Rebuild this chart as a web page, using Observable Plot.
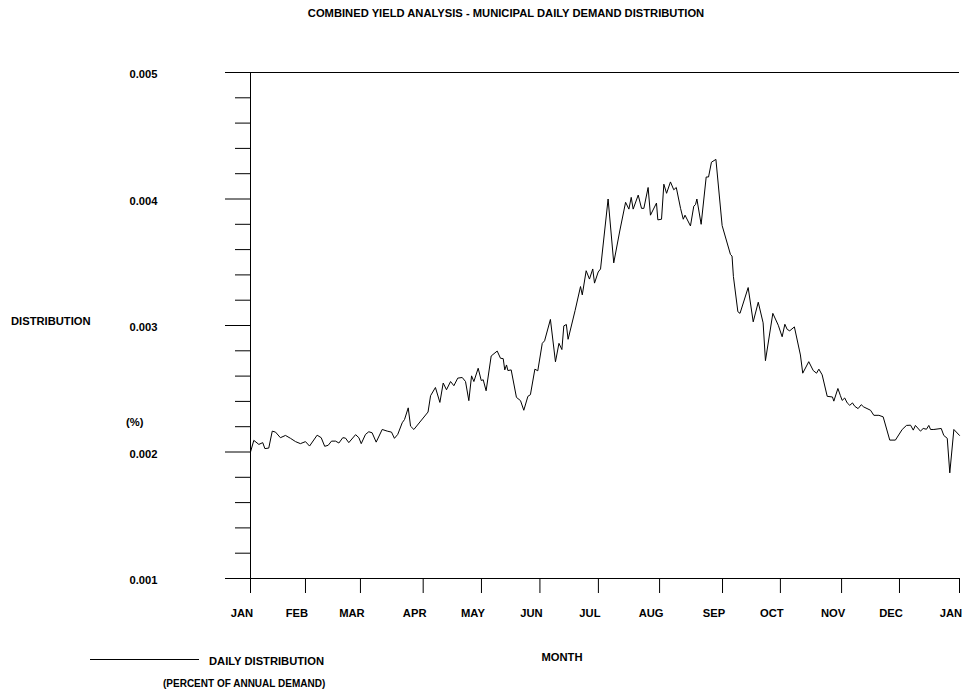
<!DOCTYPE html>
<html><head><meta charset="utf-8">
<script src="https://cdn.jsdelivr.net/npm/d3@7"></script>
<script src="https://cdn.jsdelivr.net/npm/@observablehq/plot@0.6"></script>
<style>
body{margin:0;background:#fff;}
#wrap{position:relative;width:964px;height:692px;font-family:"Liberation Sans",Arial,sans-serif;font-weight:bold;font-size:11.2px;color:#000;}
.lbl{position:absolute;white-space:nowrap;line-height:1;}
#chart{position:absolute;left:0;top:0;}
</style></head><body><div id="wrap"><div id="chart"></div></div>
<script>
// Day of year (0 = 1 Jan, 365 = next 1 Jan) and daily distribution (fraction of annual demand)
const days = [0,1.7,4.3,6.3,7.4,9.4,11.2,12.9,15.4,18.0,20.6,23.2,25.7,28.3,30.4,34.3,36.4,38.2,40.0,41.7,43.8,45.5,47.5,48.9,50.6,54.1,55.8,57.0,59.2,60.9,62.6,64.7,67.8,70.4,72.6,74.1,75.8,78.1,79.3,81.2,82.4,84.1,91.4,92.7,95.2,97.5,99.2,100.9,103.0,104.7,106.7,109.0,110.7,112.4,113.8,115.0,117.2,118.8,119.8,121.3,123.9,127.0,128.7,130.1,130.9,131.8,132.5,134.2,136.9,139.0,140.7,142.8,144.1,146.4,147.9,150.2,151.4,154.4,157.0,158.8,160.3,161.3,162.6,163.5,167.1,169.9,170.8,172.8,174.5,176.2,177.1,179.0,180.2,184.1,187.0,190.1,193.1,194.8,196.0,197.0,199.6,201.3,202.5,204.7,205.9,209.0,209.7,211.6,212.8,214.2,216.2,217.9,219.2,221.4,222.8,223.7,226.5,228.2,229.1,229.8,232.0,234.6,235.8,237.3,239.6,242.8,247.1,247.9,248.6,250.9,252.0,256.2,258.8,261.4,263.9,265.1,268.9,271.7,273.7,275.1,276.3,277.6,280.0,283.1,284.3,287.4,289.7,291.4,292.6,294.3,296.9,299.6,300.3,302.4,303.7,304.6,305.9,307.2,308.5,309.9,311.1,312.8,314.4,315.7,319.2,320.9,323.5,325.7,329.1,332.0,335.5,337.7,339.8,341.2,342.3,344.9,346.3,348.0,349.2,350.1,351.8,355.6,356.9,358.7,360.0,362.1,365];
const values = [0.002000,0.002092,0.002060,0.002074,0.002027,0.002031,0.002165,0.002157,0.002113,0.002131,0.002108,0.002082,0.002066,0.002082,0.002047,0.002133,0.002113,0.002045,0.002053,0.002086,0.002086,0.002071,0.002113,0.002110,0.002074,0.002137,0.002113,0.002066,0.002139,0.002160,0.002152,0.002078,0.002178,0.002165,0.002157,0.002108,0.002139,0.002231,0.002257,0.002349,0.002204,0.002178,0.002316,0.002445,0.002510,0.002392,0.002545,0.002492,0.002557,0.002524,0.002584,0.002589,0.002557,0.002406,0.002602,0.002557,0.002662,0.002565,0.002571,0.002484,0.002759,0.002798,0.002741,0.002738,0.002649,0.002688,0.002644,0.002649,0.002432,0.002406,0.002330,0.002440,0.002453,0.002655,0.002642,0.002859,0.002879,0.003048,0.002713,0.002859,0.002810,0.002997,0.003008,0.002891,0.003118,0.003308,0.003242,0.003433,0.003367,0.003447,0.003335,0.003423,0.003447,0.004000,0.003495,0.003747,0.003974,0.003920,0.004013,0.003920,0.004031,0.003926,0.003926,0.004091,0.003872,0.003968,0.003835,0.003840,0.004117,0.004045,0.004135,0.004073,0.004091,0.003926,0.003840,0.003872,0.003787,0.003943,0.003956,0.004000,0.003800,0.004174,0.004174,0.004291,0.004313,0.003790,0.003561,0.003549,0.003388,0.003109,0.003096,0.003300,0.003029,0.003184,0.003021,0.002722,0.003096,0.003002,0.002911,0.003010,0.002969,0.002958,0.002989,0.002767,0.002623,0.002714,0.002644,0.002623,0.002655,0.002610,0.002440,0.002435,0.002402,0.002502,0.002445,0.002408,0.002427,0.002388,0.002369,0.002388,0.002361,0.002343,0.002374,0.002356,0.002330,0.002290,0.002290,0.002278,0.002094,0.002094,0.002178,0.002210,0.002212,0.002173,0.002210,0.002165,0.002186,0.002180,0.002210,0.002178,0.002178,0.002186,0.002131,0.002108,0.001835,0.002178,0.002131];
const monthTickDays = [0,28.3,56.6,88.9,118.9,149.0,179.1,210.6,243,272.8,304.3,334.1,365];
const monthLabels = ["JAN","FEB","MAR","APR","MAY","JUN","JUL","AUG","SEP","OCT","NOV","DEC","JAN"];
const majorYTicks = [0.001,0.002,0.003,0.004,0.005];
const minorYTicks = [0.0012,0.0014,0.0016,0.0018,0.0022,0.0024,0.0026,0.0028,0.0032,0.0034,0.0036,0.0038,0.0042,0.0044,0.0046,0.0048];

const data = days.map((d, i) => ({day: d, value: values[i]}));

const chart = Plot.plot({
  width: 964, height: 692,
  marginTop: 72, marginBottom: 114, marginLeft: 250, marginRight: 5,
  style: {fontFamily: "'Liberation Sans', Arial, sans-serif", fontWeight: "bold", fontSize: "11.2px", background: "white", color: "black"},
  x: {domain: [0, 365]},
  y: {domain: [0.001, 0.005]},
  marks: [
    Plot.ruleY([0.005], {stroke: "black"}),
    Plot.ruleY([0.001], {stroke: "black"}),
    Plot.ruleX([0], {stroke: "black"}),
    // y axis: major ticks, minor ticks, labels
    Plot.axisY(majorYTicks, {tickSize: 25, tickFormat: () => "", label: null}),
    Plot.axisY(minorYTicks, {tickSize: 15, tickFormat: () => "", label: null}),
    Plot.axisY(majorYTicks, {tickSize: 0, tickPadding: 93, tickFormat: d3.format(".3f"), label: null, dy: 2}),
    // x axis: ticks, then labels offset slightly left
    Plot.axisX(monthTickDays, {tickSize: 15, tickFormat: () => "", label: null}),
    Plot.axisX(monthTickDays, {tickSize: 0, tickPadding: 31, tickFormat: d => monthLabels[monthTickDays.indexOf(d)], label: null, dx: -8.5}),
    Plot.line(data, {x: "day", y: "value", stroke: "black", strokeWidth: 1})
  ]
});
document.getElementById("chart").appendChild(chart);

const wrap = document.getElementById("wrap");
function addLabel(text, left, top, opts = {}) {
  const el = document.createElement("div");
  el.className = "lbl";
  el.textContent = text;
  el.style.left = left + "px";
  el.style.top = top + "px";
  el.style.transform = opts.center ? "translate(-50%,-50%)" : "translate(0,-50%)";
  if (opts.size) el.style.fontSize = opts.size + "px";
  wrap.appendChild(el);
}
addLabel("COMBINED YIELD ANALYSIS - MUNICIPAL DAILY DEMAND DISTRIBUTION", 506, 14, {center: true});
addLabel("DISTRIBUTION", 11, 322);
addLabel("(%)", 126, 423);
addLabel("MONTH", 562, 658, {center: true});
addLabel("DAILY DISTRIBUTION", 209, 662);
addLabel("(PERCENT OF ANNUAL DEMAND)", 163, 684, {size: 10});
const leg = document.createElement("div");
leg.style.cssText = "position:absolute;left:90px;top:659px;width:109px;height:0;border-top:1px solid #000;";
wrap.appendChild(leg);
</script>
</body></html>
